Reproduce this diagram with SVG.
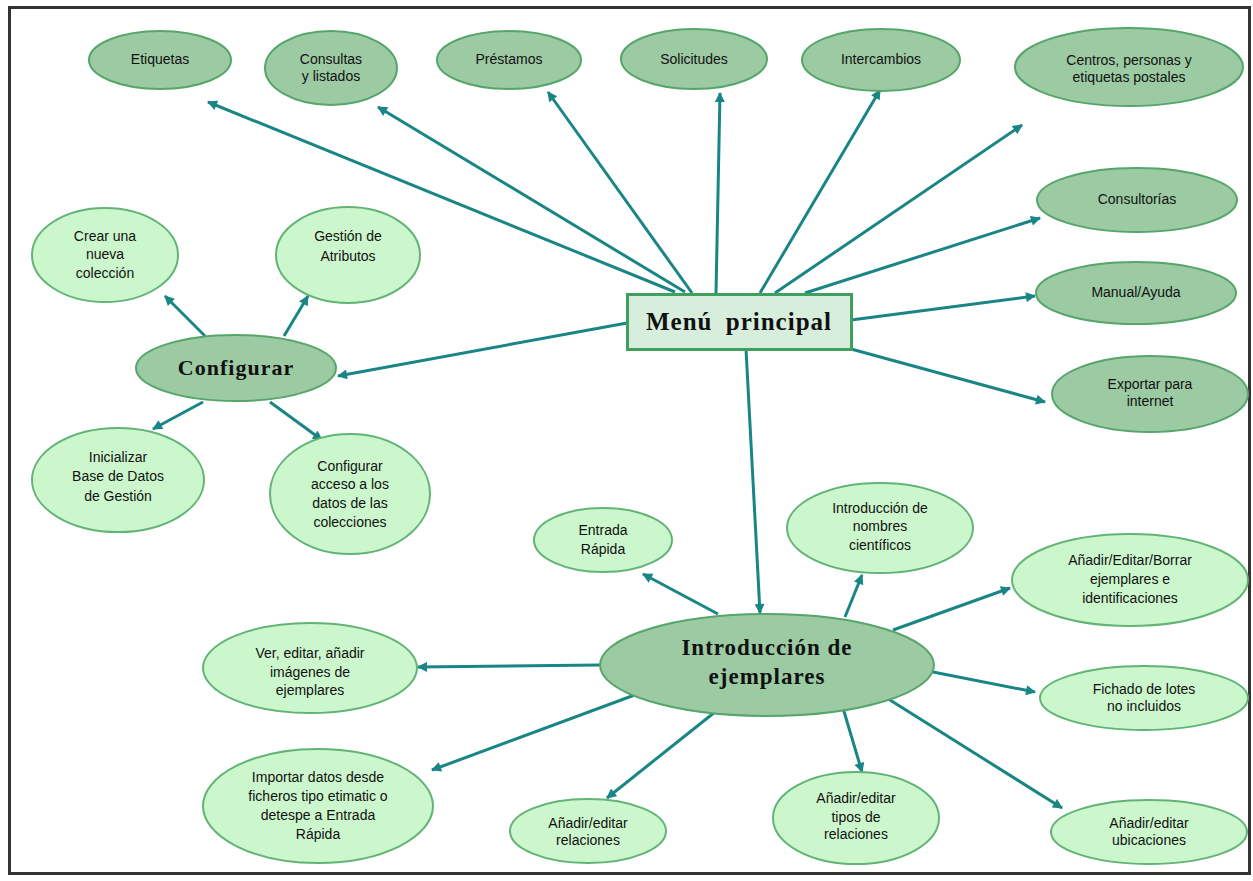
<svg xmlns="http://www.w3.org/2000/svg" width="1253" height="881" viewBox="0 0 1253 881">
<defs>
<marker id="ah" viewBox="0 0 10 10" refX="9" refY="5" markerWidth="11" markerHeight="10" markerUnits="userSpaceOnUse" orient="auto">
<path d="M0,0 L10,5 L0,10 z" fill="#1a8585"/>
</marker>
<style>
.dark{fill:#9ccaa3;stroke:#56a56a;stroke-width:2}
.light{fill:#ccf7cc;stroke:#62b476;stroke-width:2}
.t{font-family:"Liberation Sans",Arial,sans-serif;font-size:14px;fill:#111;text-anchor:middle}
.h{font-family:"Liberation Serif","Times New Roman",serif;font-weight:bold;fill:#111;text-anchor:middle;letter-spacing:1px}
.c line{stroke:#1a8585;stroke-width:3;marker-end:url(#ah)}
</style>
</defs>
<rect x="0" y="0" width="1253" height="881" fill="#fff"/>
<rect x="9.5" y="7.5" width="1240" height="866" fill="none" stroke="#333" stroke-width="3"/>

<g class="c" id="connectors">
<line x1="675" y1="292" x2="208" y2="102"/>
<line x1="685" y1="292" x2="378" y2="107"/>
<line x1="692" y1="293" x2="548" y2="92"/>
<line x1="716" y1="293" x2="720" y2="93"/>
<line x1="760" y1="293" x2="880" y2="90"/>
<line x1="775" y1="293" x2="1022" y2="125"/>
<line x1="805" y1="293" x2="1040" y2="218"/>
<line x1="851" y1="320" x2="1035" y2="296"/>
<line x1="851" y1="349" x2="1045" y2="402"/>
<line x1="627" y1="323" x2="338" y2="376"/>
<line x1="746" y1="349" x2="760" y2="613"/>
<line x1="205" y1="336" x2="165" y2="296"/>
<line x1="284" y1="336" x2="308" y2="296"/>
<line x1="203" y1="402" x2="153" y2="429"/>
<line x1="270" y1="402" x2="322" y2="440"/>
<line x1="718" y1="614" x2="643" y2="574"/>
<line x1="845" y1="617" x2="862" y2="575"/>
<line x1="893" y1="630" x2="1010" y2="588"/>
<line x1="600" y1="665" x2="418" y2="667"/>
<line x1="933" y1="672" x2="1035" y2="692"/>
<line x1="640" y1="693" x2="432" y2="770"/>
<line x1="720" y1="708" x2="607" y2="798"/>
<line x1="843" y1="708" x2="862" y2="772"/>
<line x1="882" y1="695" x2="1062" y2="808"/>
</g>

<g id="etiquetas"><ellipse class="dark" cx="160" cy="60" rx="71" ry="29"/><text class="t" x="160" y="64">Etiquetas</text></g>
<g id="consultas"><ellipse class="dark" cx="331" cy="68" rx="66" ry="37"/><text class="t" x="331" y="64">Consultas</text><text class="t" x="331" y="81">y listados</text></g>
<g id="prestamos"><ellipse class="dark" cx="509" cy="60" rx="72" ry="29"/><text class="t" x="509" y="64">Préstamos</text></g>
<g id="solicitudes"><ellipse class="dark" cx="694" cy="59" rx="73" ry="30"/><text class="t" x="694" y="64">Solicitudes</text></g>
<g id="intercambios"><ellipse class="dark" cx="881" cy="60" rx="79" ry="31"/><text class="t" x="881" y="64">Intercambios</text></g>
<g id="centros"><ellipse class="dark" cx="1129" cy="67" rx="114" ry="39"/><text class="t" x="1129" y="65">Centros, personas y</text><text class="t" x="1129" y="82">etiquetas postales</text></g>
<g id="consultorias"><ellipse class="dark" cx="1137" cy="200" rx="100" ry="32"/><text class="t" x="1137" y="204">Consultorías</text></g>
<g id="manual"><ellipse class="dark" cx="1136" cy="293" rx="100" ry="31"/><text class="t" x="1136" y="297">Manual/Ayuda</text></g>
<g id="exportar"><ellipse class="dark" cx="1150" cy="394" rx="98" ry="38"/><text class="t" x="1150" y="389">Exportar para</text><text class="t" x="1150" y="406">internet</text></g>

<g id="menu"><rect x="627.5" y="294.5" width="224" height="55" fill="#d8eedc" stroke="#3f9f5c" stroke-width="3"/><text class="h" x="739" y="330" font-size="25" word-spacing="6">Menú principal</text></g>

<g id="configurar"><ellipse class="dark" cx="236" cy="368" rx="100" ry="33"/><text class="h" x="236" y="375" font-size="22">Configurar</text></g>
<g id="crear"><ellipse class="light" cx="105" cy="255" rx="73" ry="47"/><text class="t" x="105" y="241">Crear una</text><text class="t" x="105" y="259">nueva</text><text class="t" x="105" y="278">colección</text></g>
<g id="gestion"><ellipse class="light" cx="348" cy="255" rx="72" ry="48"/><text class="t" x="348" y="241">Gestión de</text><text class="t" x="348" y="261">Atributos</text></g>
<g id="inicializar"><ellipse class="light" cx="118" cy="480" rx="86" ry="52"/><text class="t" x="118" y="462">Inicializar</text><text class="t" x="118" y="481">Base de Datos</text><text class="t" x="118" y="501">de Gestión</text></g>
<g id="acceso"><ellipse class="light" cx="350" cy="494" rx="80" ry="60"/><text class="t" x="350" y="471">Configurar</text><text class="t" x="350" y="489">acceso a los</text><text class="t" x="350" y="508">datos de las</text><text class="t" x="350" y="527">colecciones</text></g>

<g id="introduccion"><ellipse class="dark" cx="767" cy="665" rx="167" ry="51"/><text class="h" x="767" y="655" font-size="23">Introducción de</text><text class="h" x="767" y="684" font-size="23">ejemplares</text></g>
<g id="entrada"><ellipse class="light" cx="603" cy="540" rx="69" ry="32"/><text class="t" x="603" y="535">Entrada</text><text class="t" x="603" y="554">Rápida</text></g>
<g id="nombres"><ellipse class="light" cx="880" cy="528" rx="93" ry="45"/><text class="t" x="880" y="513">Introducción de</text><text class="t" x="880" y="531">nombres</text><text class="t" x="880" y="550">científicos</text></g>
<g id="borrar"><ellipse class="light" cx="1130" cy="580" rx="118" ry="46"/><text class="t" x="1130" y="565">Añadir/Editar/Borrar</text><text class="t" x="1130" y="584">ejemplares e</text><text class="t" x="1130" y="603">identificaciones</text></g>
<g id="imagenes"><ellipse class="light" cx="310" cy="668" rx="107" ry="45"/><text class="t" x="310" y="658">Ver, editar, añadir</text><text class="t" x="310" y="677">imágenes de</text><text class="t" x="310" y="695">ejemplares</text></g>
<g id="fichado"><ellipse class="light" cx="1144" cy="698" rx="104" ry="32"/><text class="t" x="1144" y="694">Fichado de lotes</text><text class="t" x="1144" y="711">no incluidos</text></g>
<g id="importar"><ellipse class="light" cx="318" cy="806" rx="115" ry="57"/><text class="t" x="318" y="782">Importar datos desde</text><text class="t" x="318" y="801">ficheros tipo etimatic o</text><text class="t" x="318" y="820">detespe a Entrada</text><text class="t" x="318" y="839">Rápida</text></g>
<g id="relaciones"><ellipse class="light" cx="588" cy="831" rx="78" ry="32"/><text class="t" x="588" y="828">Añadir/editar</text><text class="t" x="588" y="845">relaciones</text></g>
<g id="tipos"><ellipse class="light" cx="856" cy="818" rx="83" ry="46"/><text class="t" x="856" y="803">Añadir/editar</text><text class="t" x="856" y="822">tipos de</text><text class="t" x="856" y="839">relaciones</text></g>
<g id="ubicaciones"><ellipse class="light" cx="1149" cy="832" rx="98" ry="32"/><text class="t" x="1149" y="828">Añadir/editar</text><text class="t" x="1149" y="845">ubicaciones</text></g>
</svg>
